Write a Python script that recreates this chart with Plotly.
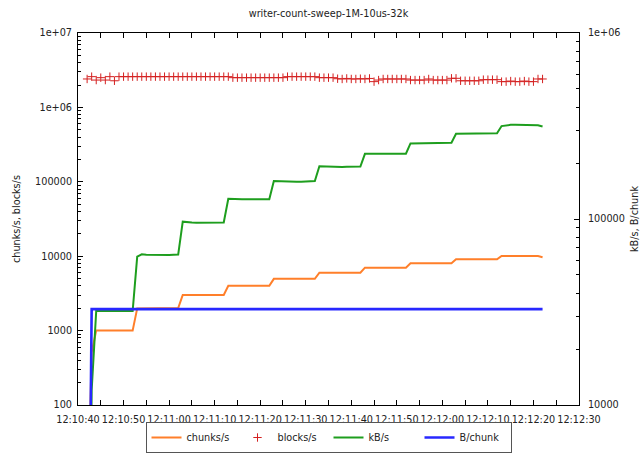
import pandas as pd
import plotly.graph_objects as go

# ---------------- data ----------------
chart_title = "writer-count-sweep-1M-10us-32k"
start_time = "2024-01-01 12:10:42"   # one sample per second

chunks_s = [
    1, 510,
    1000, 1000, 1000, 1000, 1000, 1000, 1000, 1000, 1000,
    1990, 2000, 2000, 2000, 2000, 2000, 1990, 2000, 2000, 2010,
    3010, 3010, 3000, 3000, 3000, 3000, 3000, 3000, 3000, 3010,
    4010, 4000, 4000, 3990, 3990, 3990, 3980, 3990, 4000, 4000,
    4960, 4970, 4970, 4960, 4960, 4960, 4960, 4960, 4960, 4970,
    6000, 6000, 6010, 5990, 5990, 5990, 5990, 6000, 6000, 6000,
    7010, 7010, 7010, 7010, 7010, 7020, 7020, 7020, 7020, 7020,
    8020, 8020, 8030, 8030, 8030, 8040, 8040, 8040, 8040, 8040,
    9080, 9080, 9080, 9080, 9080, 9080, 9080, 9080, 9080, 9090,
    10070, 10070, 10070, 10060, 10060, 10060, 10060, 10050, 10050, 9700,
]

blocks_s = [
    2410000, 2590000, 2330000, 2510000, 2330000, 2590000, 2280000,
    2590000, 2590000, 2590000, 2590000, 2590000, 2590000, 2590000, 2590000, 2590000, 2590000,
    2590000, 2590000, 2590000, 2590000, 2590000, 2590000, 2590000, 2590000, 2590000, 2590000,
    2590000, 2590000, 2590000, 2590000, 2590000,
    2510000, 2510000, 2510000, 2510000, 2510000, 2510000, 2510000, 2510000, 2510000, 2510000,
    2510000, 2510000,
    2590000, 2590000, 2590000, 2590000, 2590000, 2590000, 2590000,
    2510000, 2510000, 2510000, 2510000,
    2430000, 2410000, 2450000, 2410000, 2410000, 2430000, 2410000, 2450000,
    2220000, 2330000,
    2410000, 2410000, 2410000, 2410000, 2410000, 2410000,
    2330000, 2330000, 2330000, 2330000, 2410000, 2330000, 2330000, 2330000, 2330000,
    2460000, 2460000,
    2280000, 2280000, 2280000, 2280000, 2280000,
    2360000, 2360000, 2360000, 2360000,
    2220000, 2220000, 2260000, 2220000, 2220000, 2260000, 2220000, 2220000,
    2410000, 2410000,
]

kb_s = [
    30, 12000,
    32000, 32000, 32000, 32000, 32000, 32000, 32000, 32000, 32000,
    62700, 64600, 64300, 64200, 64000, 64000, 64000, 64000, 64200, 64400,
    96800, 96000, 95800, 95600, 95500, 95500, 95600, 95700, 95800, 95800,
    128500, 128000, 128000, 127800, 127800, 127800, 127600, 127600, 127600, 127600,
    160000, 159500, 159200, 159000, 158800, 158800, 158800, 158900, 159000, 160000,
    192000, 191500, 191000, 191000, 190500, 190500, 191000, 191000, 191000, 191500,
    224000, 224000, 224000, 224000, 224000, 224000, 224500, 224500, 224500, 224500,
    255000, 255500, 255500, 255500, 256000, 256000, 256000, 256500, 256500, 257000,
    287000, 287000, 287000, 287000, 287000, 287500, 288000, 288000, 288000, 289000,
    316000, 320000, 321000, 321000, 321000, 320000, 320000, 319000, 319000, 314000,
]

b_chunk = [
    100, 32768,
    32768, 32768, 32768, 32768, 32768, 32768, 32768, 32768, 32768,
    32768, 32768, 32768, 32768, 32768, 32768, 32768, 32768, 32768, 32768,
    32768, 32768, 32768, 32768, 32768, 32768, 32768, 32768, 32768, 32768,
    32768, 32768, 32768, 32768, 32768, 32768, 32768, 32768, 32768, 32768,
    32768, 32768, 32768, 32768, 32768, 32768, 32768, 32768, 32768, 32768,
    32768, 32768, 32768, 32768, 32768, 32768, 32768, 32768, 32768, 32768,
    32768, 32768, 32768, 32768, 32768, 32768, 32768, 32768, 32768, 32768,
    32768, 32768, 32768, 32768, 32768, 32768, 32768, 32768, 32768, 32768,
    32768, 32768, 32768, 32768, 32768, 32768, 32768, 32768, 32768, 32768,
    32768, 32768, 32768, 32768, 32768, 32768, 32768, 32768, 32768, 32768,
]

x_range = ["2024-01-01 12:10:40", "2024-01-01 12:12:30"]
left_tickvals = [1e2, 1e3, 1e4, 1e5, 1e6, 1e7]
left_ticktext = ["100", "1000", "10000", "100000", "1e+06", "1e+07"]
right_tickvals = [1e4, 1e5, 1e6]
right_ticktext = ["10000", "100000", "1e+06"]

times = pd.date_range(start_time, periods=len(blocks_s), freq="s")

# ---------------- figure ----------------
FONT = "DejaVu Sans"
FS = 9.7
TXT = "#222222"
AX = "#000000"

W, H = 642, 455
L, R, T, B = 78, 63, 33, 50
PW = W - L - R
PH = H - T - B


def log_minor(lo, hi):
    vals = []
    for e in range(lo, hi):
        for m in range(2, 10):
            vals.append(m * 10 ** e)
    return vals


fig = go.Figure()
fig.add_trace(go.Scatter(
    x=times, y=chunks_s, name="chunks/s", mode="lines",
    line=dict(color="#ff7f2a", width=2)))
fig.add_trace(go.Scatter(
    x=times, y=blocks_s, name="blocks/s", mode="markers",
    marker=dict(symbol="cross-thin", size=6, color="#d42020",
                line=dict(color="#d42020", width=1))))
fig.add_trace(go.Scatter(
    x=times, y=kb_s, name="kB/s", mode="lines", yaxis="y2",
    line=dict(color="#1e9e1e", width=2)))
fig.add_trace(go.Scatter(
    x=times, y=b_chunk, name="B/chunk", mode="lines", yaxis="y2",
    line=dict(color="#2828ff", width=2.6)))

axis_common = dict(showgrid=False, zeroline=False, showline=True,
                   linecolor=AX, linewidth=1, ticks="inside", ticklen=5,
                   tickcolor=AX, tickwidth=1,
                   tickfont=dict(family=FONT, size=FS, color=TXT))

fig.update_layout(
    width=W, height=H,
    margin=dict(l=L, r=R, t=T, b=B, pad=0, autoexpand=False),
    paper_bgcolor="white", plot_bgcolor="white",
    font=dict(family=FONT, size=FS, color=TXT),
    title=dict(text=chart_title, xref="paper", x=0.5, xanchor="center",
               yref="container", y=1 - 14 / H, yanchor="middle",
               font=dict(family=FONT, size=FS, color=TXT)),
    xaxis=dict(type="date", range=x_range, tickformat="%H:%M:%S",
               tick0=x_range[0], dtick=10000, mirror="allticks",
               ticklabelstandoff=5,
               minor=dict(dtick=5000, tick0=x_range[0], ticks="inside",
                          ticklen=3, tickcolor=AX, showgrid=False),
               **axis_common),
    yaxis=dict(type="log", range=[2, 7], tickmode="array",
               tickvals=left_tickvals, ticktext=left_ticktext,
               mirror=False, ticklabelstandoff=3,
               minor=dict(tickmode="array", tickvals=log_minor(2, 7),
                          ticks="inside", ticklen=3, tickcolor=AX,
                          showgrid=False),
               **axis_common),
    yaxis2=dict(type="log", range=[4, 6], overlaying="y", side="right",
                tickmode="array", tickvals=right_tickvals,
                ticktext=right_ticktext, ticklabelstandoff=6,
                minor=dict(tickmode="array", tickvals=log_minor(4, 6),
                           ticks="inside", ticklen=3, tickcolor=AX,
                           showgrid=False),
                **axis_common),
    showlegend=True,
    legend=dict(orientation="h", xref="paper", x=0.5, xanchor="center",
                yref="container", y=(H - 453) / H, yanchor="bottom",
                bordercolor="#555555", borderwidth=1, bgcolor="white",
                font=dict(family=FONT, size=FS, color=TXT),
                itemwidth=30, tracegroupgap=0,
                entrywidthmode="pixels", entrywidth=46),
    annotations=[
        dict(text="chunks/s, blocks/s", textangle=-90, showarrow=False,
             xref="paper", yref="paper", x=(16 - L) / PW, y=0.5,
             xanchor="center", yanchor="middle",
             font=dict(family=FONT, size=FS, color=TXT)),
        dict(text="kB/s, B/chunk", textangle=-90, showarrow=False,
             xref="paper", yref="paper", x=(634 - L) / PW, y=0.5,
             xanchor="center", yanchor="middle",
             font=dict(family=FONT, size=FS, color=TXT)),
    ],
)

fig.write_html("out.html")
